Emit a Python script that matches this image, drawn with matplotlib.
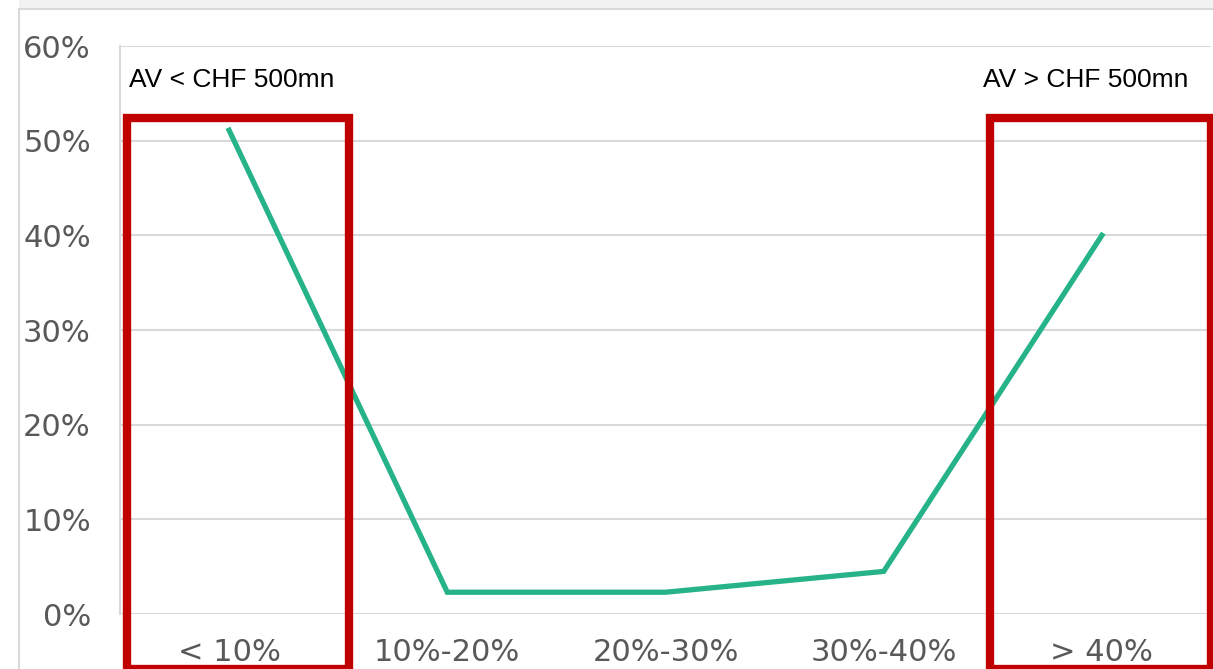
import matplotlib.pyplot as plt
from matplotlib.patches import Rectangle
from matplotlib.lines import Line2D
import numpy as np

categories = ["< 10%", "10%-20%", "20%-30%", "30%-40%", "> 40%"]
share = [51.1, 2.3, 2.3, 4.5, 40.0]
y_ticks = [0, 10, 20, 30, 40, 50, 60]

GRID = "#d9d9d9"
TEXT = "#595959"
GREEN = "#26b38a"
RED = "#c00000"

fig = plt.figure(figsize=(12.13, 6.69), dpi=100)
fig.patch.set_facecolor("white")

# panel frame: grey strip along the top and a thin rule on the left
fig.add_artist(Rectangle((19 / 1213, 661 / 669), 1, 8 / 669, transform=fig.transFigure,
                         facecolor="#f2f2f2", edgecolor="none"))
fig.add_artist(Line2D([19 / 1213, 1], [660.5 / 669, 660.5 / 669], transform=fig.transFigure,
                      color=GRID, lw=1.5))
fig.add_artist(Line2D([18.5 / 1213, 18.5 / 1213], [0, 660.5 / 669], transform=fig.transFigure,
                      color=GRID, lw=1.5))

ax = fig.add_axes([120 / 1213, 55 / 669, 1091 / 1213, 568 / 669])
xpos = np.arange(len(categories))
ax.plot(xpos, share, color=GREEN, lw=3.8, solid_joinstyle="miter", zorder=3)

ax.set_xlim(-0.5, len(categories) - 0.5)
ax.set_ylim(0, 60)
ax.set_yticks(y_ticks)
ax.set_yticklabels([f"{v}%" for v in y_ticks])
ax.set_xticks(xpos)
ax.set_xticklabels(categories)
ax.tick_params(axis="y", length=0, pad=21, labelsize=22, labelcolor=TEXT)
ax.tick_params(axis="x", length=0, pad=17, labelsize=22, labelcolor=TEXT)
ax.grid(axis="y", color=GRID, lw=1.5)
ax.set_axisbelow(True)
for side in ["top", "right", "bottom"]:
    ax.spines[side].set_visible(False)
ax.spines["left"].set_color(GRID)
ax.spines["left"].set_linewidth(1.5)

# highlight boxes around the two extreme buckets
for x0, x1 in [(-0.466, 0.5505), (3.486, 4.5)]:
    ax.add_patch(Rectangle((x0, -5.85), x1 - x0, 58.25, fill=False, edgecolor=RED,
                           lw=6, clip_on=False, zorder=4))

ax.text(-0.459, 56.4, "AV < CHF 500mn", fontsize=19, family="Liberation Sans",
        color="black", ha="left", va="center")
ax.text(3.454, 56.4, "AV > CHF 500mn", fontsize=19, family="Liberation Sans",
        color="black", ha="left", va="center")

fig.savefig("out.png", dpi=100)
